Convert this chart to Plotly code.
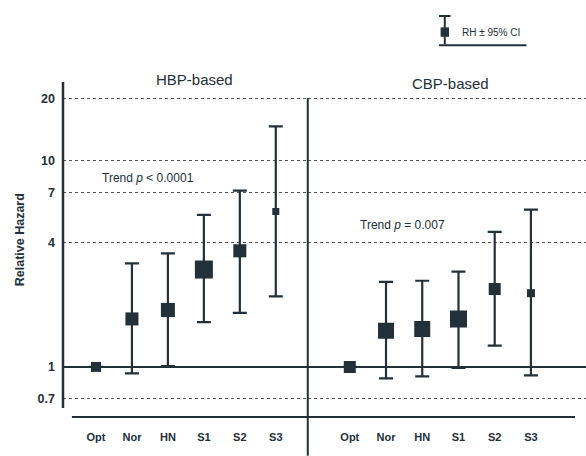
import plotly.graph_objects as go

categories = ["Opt", "Nor", "HN", "S1", "S2", "S3"]

hbp_rh = [1.0, 1.71, 1.89, 2.97, 3.66, 5.68]
hbp_lo = [1.0, 0.93, 1.01, 1.65, 1.83, 2.20]
hbp_hi = [1.0, 3.18, 3.56, 5.47, 7.17, 14.7]

cbp_rh = [1.0, 1.50, 1.53, 1.71, 2.39, 2.28]
cbp_lo = [1.0, 0.88, 0.90, 0.99, 1.27, 0.91]
cbp_hi = [1.0, 2.59, 2.62, 2.90, 4.52, 5.80]

y_ticks = [0.7, 1, 4, 7, 10, 20]
y_ticktext = ["0.7", "1", "4", "7", "10", "20"]

panel_titles = ["HBP-based", "CBP-based"]
trend_texts = ["Trend <i>p</i> < 0.0001", "Trend <i>p</i> = 0.007"]

# style
INK = "#22303a"
FONT = "Liberation Sans, Arial, sans-serif"
hbp_sizes = [10, 13, 14, 18, 13, 7]
cbp_sizes = [12, 16, 16, 17, 12, 8]

fig = go.Figure()


def add_panel(rh, lo, hi, sizes, xa):
    fig.add_trace(go.Scatter(
        x=categories, y=rh, mode="markers", xaxis=xa, yaxis="y",
        marker=dict(symbol="square", size=sizes, color=INK, opacity=1, line=dict(width=0)),
        error_y=dict(type="data", symmetric=False,
                     array=[h - r for h, r in zip(hi, rh)],
                     arrayminus=[r - l for r, l in zip(rh, lo)],
                     color=INK, thickness=2.2, width=7),
        showlegend=False, hoverinfo="skip"))


add_panel(hbp_rh, hbp_lo, hbp_hi, hbp_sizes, "x")
add_panel(cbp_rh, cbp_lo, cbp_hi, cbp_sizes, "x2")

xcommon = dict(type="category", showgrid=False, showline=False, zeroline=False,
               ticks="", tickfont=dict(family=FONT, size=11, color=INK, weight="bold"),
               ticklabelstandoff=12, fixedrange=True)

fig.update_layout(
    width=586, height=456,
    margin=dict(l=63, r=0, t=82, b=39),
    paper_bgcolor="white", plot_bgcolor="white",
    xaxis=dict(domain=[0, 0.468], range=[-0.917, 5.889], anchor="y", **xcommon),
    xaxis2=dict(domain=[0.468, 1], range=[-1.16, 6.52], anchor="y", **xcommon),
    yaxis=dict(type="log", range=[-0.243, 1.383], tickvals=y_ticks, ticktext=y_ticktext,
               showgrid=True, griddash="dot", gridcolor="#50565b", gridwidth=1,
               showline=False, ticks="", ticklabelstandoff=7,
               tickfont=dict(family=FONT, size=12.5, color=INK, weight="bold"),
               fixedrange=True),
    showlegend=False,
)

shapes = []
# reference line at RH = 1
shapes.append(dict(type="line", xref="paper", yref="y", x0=0, x1=1, y0=1, y1=1,
                   line=dict(color=INK, width=2)))
# y axis line
shapes.append(dict(type="line", xref="paper", yref="paper", x0=0, x1=0, y0=0.027, y1=1,
                   line=dict(color=INK, width=2.5)))
# baseline
shapes.append(dict(type="line", xref="paper", yref="paper", x0=0.017, x1=0.979, y0=0, y1=0,
                   line=dict(color=INK, width=2)))
# divider
shapes.append(dict(type="line", xref="paper", yref="paper", x0=0.468, x1=0.468, y0=-0.116, y1=0.952,
                   line=dict(color=INK, width=2)))
# legend glyph
lx = 0.730
shapes += [
    dict(type="line", xref="paper", yref="paper", x0=lx, x1=lx, y0=1.112, y1=1.197,
         line=dict(color=INK, width=2)),
    dict(type="line", xref="paper", yref="paper", x0=lx - 0.011, x1=lx + 0.011, y0=1.197, y1=1.197,
         line=dict(color=INK, width=2)),
    dict(type="rect", xref="paper", yref="paper", x0=lx - 0.008, x1=lx + 0.008, y0=1.135, y1=1.163,
         line=dict(width=0), fillcolor=INK),
    dict(type="line", xref="paper", yref="paper", x0=lx - 0.011, x1=0.886, y0=1.110, y1=1.110,
         line=dict(color=INK, width=2)),
]
fig.update_layout(shapes=shapes)

ann = [
    dict(text=panel_titles[0], x=0.252, y=1.006, xref="paper", yref="paper",
         xanchor="center", yanchor="middle", showarrow=False,
         font=dict(family=FONT, size=15, color=INK)),
    dict(text=panel_titles[1], x=0.740, y=0.997, xref="paper", yref="paper",
         xanchor="center", yanchor="middle", showarrow=False,
         font=dict(family=FONT, size=15, color=INK)),
    dict(text=trend_texts[0], x=0.0707, y=0.713, xref="paper", yref="paper",
         xanchor="left", yanchor="middle", showarrow=False,
         font=dict(family=FONT, size=12, color=INK)),
    dict(text=trend_texts[1], x=0.564, y=0.573, xref="paper", yref="paper",
         xanchor="left", yanchor="middle", showarrow=False,
         font=dict(family=FONT, size=12, color=INK)),
    dict(text="Relative Hazard", x=-0.082, y=0.528, xref="paper", yref="paper",
         textangle=-90, xanchor="center", yanchor="middle", showarrow=False,
         font=dict(family=FONT, size=12.5, color=INK, weight="bold")),
    dict(text="RH ± 95% CI", x=0.759, y=1.149, xref="paper", yref="paper",
         xanchor="left", yanchor="middle", showarrow=False,
         font=dict(family=FONT, size=10, color=INK)),
]
fig.update_layout(annotations=ann)

fig.write_html("out.html")
